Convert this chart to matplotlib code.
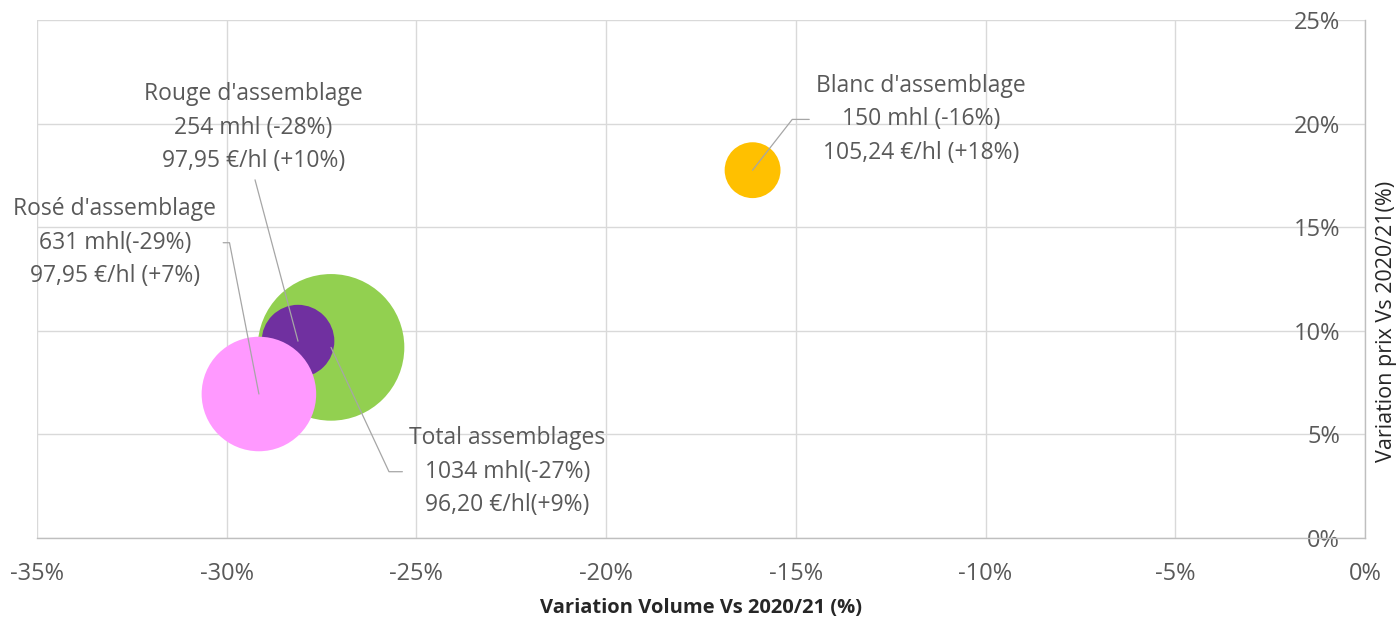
import numpy as np
import matplotlib

matplotlib.use("Agg")
import matplotlib.pyplot as plt
from matplotlib.ticker import FuncFormatter

plt.rcParams["font.family"] = ["Open Sans", "DejaVu Sans"]

# data
names = ["Total assemblages", "Rouge d'assemblage", "Rosé d'assemblage", "Blanc d'assemblage"]
var_volume = [-27.25, -28.12, -29.15, -16.14]   # % vs 2020/21
var_price = [9.2, 9.5, 6.95, 17.75]             # % vs 2020/21
volume_mhl = [1034, 254, 631, 150]
colors = ["#92D050", "#7030A0", "#FF99FF", "#FFC000"]
labels = [
    "Total assemblages\n1034 mhl(-27%)\n96,20 €/hl(+9%)",
    "Rouge d'assemblage\n254 mhl (-28%)\n97,95 €/hl (+10%)",
    "Rosé d'assemblage\n631 mhl(-29%)\n97,95 €/hl (+7%)",
    "Blanc d'assemblage\n150 mhl (-16%)\n105,24 €/hl (+18%)",
]
# label centres (data coords) and leader-line shape
label_pos = [(-22.6, 3.2), (-29.3, 19.8), (-32.95, 14.25), (-11.7, 20.2)]
leader = [
    dict(relpos=(0, 0.5), conn="angle,angleA=0,angleB=-65,rad=0"),
    dict(relpos=(0.5, 0), conn="arc3,rad=0"),
    dict(relpos=(1, 0.5), conn="angle,angleA=0,angleB=101,rad=0"),
    dict(relpos=(0, 0.5), conn="angle,angleA=0,angleB=52,rad=0"),
]

DPI = 100
TXT = "#595959"
GRID = "#D9D9D9"

fig = plt.figure(figsize=(13.99, 6.23), dpi=DPI)
ax = fig.add_axes([0.0264, 0.1364, 0.9493, 0.8316])

# bubble area proportional to volume (~2.28 px radius per sqrt(mhl))
k = 2.28
sizes = [(2 * k * np.sqrt(v) * 72 / DPI) ** 2 for v in volume_mhl]
for x, y, s, c in zip(var_volume, var_price, sizes, colors):
    ax.scatter(x, y, s=s, color=c, edgecolors="none", zorder=3)

for (x, y), txt, (tx, ty), ld in zip(zip(var_volume, var_price), labels, label_pos, leader):
    ax.annotate(
        txt, xy=(x, y), xytext=(tx, ty), textcoords="data",
        ha="center", va="center", multialignment="center",
        fontsize=16.5, color=TXT, linespacing=1.52, zorder=5,
        arrowprops=dict(arrowstyle="-", color="#A6A6A6", lw=0.9,
                        connectionstyle=ld["conn"], relpos=ld["relpos"],
                        shrinkA=3, shrinkB=0),
    )

ax.set_xlim(-35, 0)
ax.set_ylim(0, 25)
ax.set_xticks(np.arange(-35, 1, 5))
ax.set_yticks(np.arange(0, 26, 5))
pct = FuncFormatter(lambda v, _: f"{v:.0f}%")
ax.xaxis.set_major_formatter(pct)
ax.yaxis.set_major_formatter(pct)
ax.grid(True, color=GRID, lw=1)
ax.set_axisbelow(True)

for side in ["top", "left"]:
    ax.spines[side].set_visible(False)
for side in ["right", "bottom"]:
    ax.spines[side].set_color("#BFBFBF")
    ax.spines[side].set_linewidth(1)

ax.tick_params(axis="x", length=0, pad=17, labelsize=17, labelcolor=TXT)
ax.tick_params(axis="y", length=0, left=False, labelleft=False, right=False,
               labelright=True, pad=-18, labelsize=17, labelcolor=TXT)
for lab in ax.get_yticklabels():
    lab.set_horizontalalignment("right")

ax.set_xlabel("Variation Volume Vs 2020/21 (%)", fontsize=14.5, fontweight="bold",
              color="#262626", labelpad=9)
ax.yaxis.set_label_position("right")
ax.set_ylabel("Variation prix Vs 2020/21(%)", fontsize=15.5, color="#262626")
ax.yaxis.set_label_coords(1.008, 0.419)

fig.savefig("out.png", dpi=DPI, facecolor="white")
